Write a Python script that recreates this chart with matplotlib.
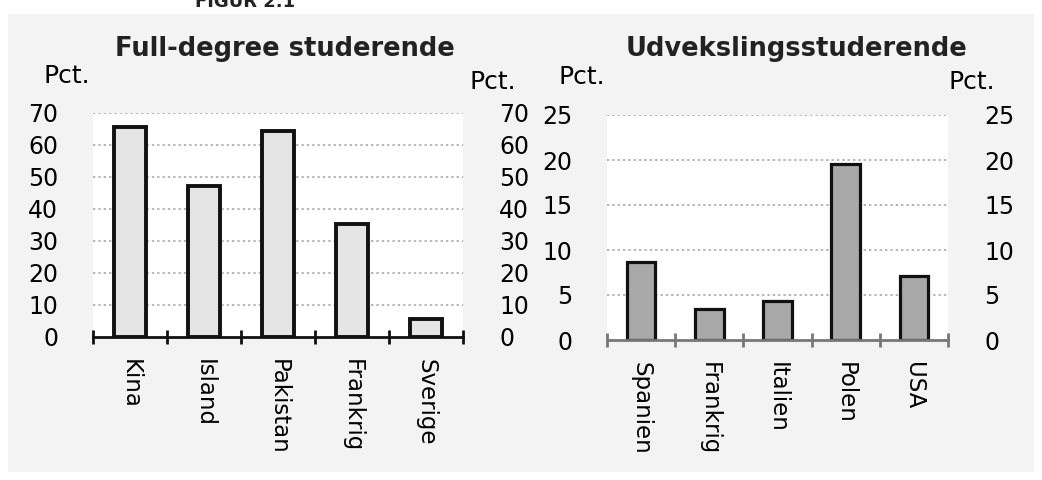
import matplotlib.pyplot as plt
from matplotlib.patches import Rectangle

# data
fullCountries = ['Kina', 'Island', 'Pakistan', 'Frankrig', 'Sverige']
fullValues = [65.5, 47.2, 64.4, 35.3, 5.6]
fullTicks = [0, 10, 20, 30, 40, 50, 60, 70]

exchCountries = ['Spanien', 'Frankrig', 'Italien', 'Polen', 'USA']
exchValues = [8.7, 3.4, 4.3, 19.6, 7.1]
exchTicks = [0, 5, 10, 15, 20, 25]

W, H = 1042, 480


def px(x0, y0, x1, y1):
    # pixel box (top-left origin) to figure fraction rect
    return [x0 / W, 1 - y1 / H, (x1 - x0) / W, (y1 - y0) / H]


def drawPanel(fig, rect, cats, vals, ticks, face, edge, axcolor, lw, title, titleX, pctL, pctR):
    ax = fig.add_axes(rect)
    n = len(cats)
    ax.bar(range(n), vals, width=0.42, color=face, edgecolor=edge, linewidth=lw, zorder=3)
    ax.set_xlim(-0.5, n - 0.5)
    ax.set_ylim(ticks[0], ticks[-1])
    ax.set_yticks(ticks)
    ax.set_yticklabels([str(t) for t in ticks], fontsize=17)
    for t in ticks[1:]:
        ax.axhline(t, color='#a0a0a0', lw=1.1, ls=(0, (1.5, 2)), zorder=1)
    ax.set_xticks(range(n))
    ax.set_xticklabels(cats, rotation=270, fontsize=16.5, va='top', ha='center')
    ax.set_xticks([i - 0.5 for i in range(n + 1)], minor=True)
    ax.tick_params(axis='x', which='major', length=0, pad=16)
    ax.tick_params(axis='x', which='minor', direction='inout', length=10, width=2, color=axcolor)
    ax.tick_params(axis='y', length=0, pad=25)
    for s in ['top', 'left', 'right']:
        ax.spines[s].set_visible(False)
    ax.spines['bottom'].set_color(axcolor)
    ax.spines['bottom'].set_linewidth(2)
    ax.spines['bottom'].set_zorder(4)
    ax.set_facecolor('white')

    ax2 = ax.twinx()
    ax2.set_ylim(ticks[0], ticks[-1])
    ax2.set_yticks(ticks)
    ax2.set_yticklabels([str(t) for t in ticks], fontsize=17)
    ax2.tick_params(axis='y', length=0, pad=26)
    for s in ax2.spines.values():
        s.set_visible(False)

    fig.text(titleX / W, 1 - 49 / H, title, fontsize=18.5, fontweight='bold',
             ha='center', va='center', color='#222222')
    fig.text(pctL[0] / W, 1 - pctL[1] / H, 'Pct.', fontsize=18, ha='center', va='center')
    fig.text(pctR[0] / W, 1 - pctR[1] / H, 'Pct.', fontsize=18, ha='center', va='center')
    return ax


fig = plt.figure(figsize=(W / 100, H / 100), dpi=100)
fig.patch.set_facecolor('white')
fig.patches.append(Rectangle((8 / W, 1 - 472 / H), 1026 / W, 458 / H,
                             transform=fig.transFigure, facecolor='#f3f3f3',
                             edgecolor='none', zorder=-10))
fig.text(245 / W, 1 - 7 / H, 'FIGUR 2.1', fontsize=13, fontweight='bold',
         ha='center', va='baseline', color='#222222')

drawPanel(fig, px(93, 113, 463, 337), fullCountries, fullValues, fullTicks,
          '#e4e4e4', '#111111', '#111111', 2.8,
          'Full-degree studerende', 285, (67, 76), (493, 82))
drawPanel(fig, px(607, 115, 948, 340), exchCountries, exchValues, exchTicks,
          '#a9a9a9', '#111111', '#777777', 2.3,
          'Udvekslingsstuderende', 797, (582, 77), (972, 82))

fig.savefig('out.png', dpi=100, facecolor=fig.get_facecolor())
